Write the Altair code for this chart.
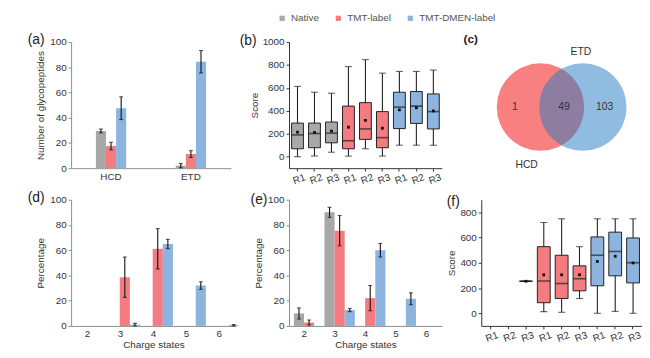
import altair as alt
import pandas as pd

FONT = "Liberation Sans"
TXT = "#333333"
AX_GRAY = "#8c8c8c"
AX_DARK = "#333333"

# ---------------- shared series ----------------
series = ["Native", "TMT-label", "TMT-DMEN-label"]
series_colors = ["#A8A8A8", "#F47B80", "#8CB4DE"]
reps = ["R1", "R2", "R3"]

# ---------------- (a) number of glycopeptides ----------------
a_modes = ["HCD", "ETD"]
a_native = [29.5, 2.0]
a_native_err = [1.5, 1.7]
a_tmt = [17.5, 11.2]
a_tmt_err = [3.0, 2.7]
a_dmen = [47.5, 84.3]
a_dmen_err = [9.0, 8.9]

# ---------------- (b) scores, HCD ----------------
b_low = [0, 6, 39, 5, 69, 5, 100, 100, 100]
b_q1 = [69, 78, 121, 69, 151, 78, 245, 290, 242]
b_med = [190, 202, 205, 139, 242, 166, 432, 441, 393]
b_q3 = [293, 293, 302, 441, 471, 393, 562, 568, 547]
b_high = [613, 562, 553, 785, 846, 728, 743, 743, 755]
b_mean = [214, 211, 223, 257, 317, 248, 408, 426, 399]

# ---------------- (c) Venn ----------------
venn_sets = ["HCD", "ETD"]
venn_counts = ["1", "49", "103"]  # HCD only, shared, ETD only

# ---------------- (d) charge states, HCD ----------------
charges = ["2", "3", "4", "5", "6"]
d_native = [0, 0, 0, 0, 0]
d_native_err = [0, 0, 0, 0, 0]
d_tmt = [0, 38.6, 61.1, 0, 0]
d_tmt_err = [0, 16.0, 16.0, 0, 0]
d_dmen = [0, 1.0, 64.9, 32.0, 0.6]
d_dmen_err = [0, 1.0, 3.7, 3.0, 0.5]

# ---------------- (e) charge states, ETD ----------------
e_native = [9.9, 90.0, 0, 0, 0]
e_native_err = [4.4, 4.0, 0, 0, 0]
e_tmt = [2.7, 75.5, 22.0, 0, 0]
e_tmt_err = [2.0, 12.0, 10.0, 0, 0]
e_dmen = [0, 12.6, 60.0, 21.5, 0]
e_dmen_err = [0, 1.3, 5.4, 4.7, 0]

# ---------------- (f) scores, ETD ----------------
f_low = [None, None, 254, 13, 8, 117, 0, 15, 0]
f_q1 = [None, None, 254, 84, 117, 178, 218, 297, 241]
f_med = [None, None, 254, 256, 236, 274, 460, 490, 401]
f_q3 = [None, None, 254, 528, 460, 376, 605, 643, 597]
f_high = [None, None, 254, 719, 749, 528, 749, 749, 749]
f_mean = [None, None, 254, 305, 305, 305, 411, 452, 399]

box_keys = [f"{s}|{r}" for s in series for r in reps]

color_enc = alt.Color(
    "series:N",
    scale=alt.Scale(domain=series, range=series_colors),
    legend=alt.Legend(
        orient="none", legendX=209, legendY=-29, direction="horizontal",
        title=None, symbolType="square", symbolSize=28, symbolStrokeWidth=0,
        labelFont=FONT, labelFontSize=10, labelColor="#555555",
        columnPadding=14, labelOffset=4,
    ),
)


def panel_title(text, dx, dy, size=14, weight="normal"):
    return alt.TitleParams(
        text=text, anchor="start", frame="group", orient="top", offset=0,
        dx=dx, dy=dy, fontSize=size, font=FONT, fontWeight=weight, color="#222222",
    )


def bar_df(cats, vals, errs):
    rows = []
    for s, vl, el in zip(series, vals, errs):
        for c, v, e in zip(cats, vl, el):
            rows.append({"cat": c, "series": s, "value": v, "err": e,
                         "lo": v - e, "hi": v + e})
    return pd.DataFrame(rows)


def bar_panel(df, cats, label, dx, dy, ytitle, xtitle, w, h, pin, pout):
    x = alt.X("cat:N", sort=cats,
              scale=alt.Scale(domain=cats, paddingInner=pin, paddingOuter=pout),
              axis=alt.Axis(title=xtitle, labelAngle=0, ticks=False, labelPadding=3,
                            titlePadding=1, domainColor=AX_GRAY))
    xo = alt.XOffset("series:N", sort=series,
                     scale=alt.Scale(domain=series, paddingInner=0, paddingOuter=0))
    ysc = alt.Scale(domain=[0, 100], nice=False, zero=True)
    yax = alt.Axis(values=[0, 20, 40, 60, 80, 100], title=ytitle, tickSize=3,
                   domainColor=AX_GRAY, tickColor=AX_GRAY, labelPadding=2, titlePadding=4)
    base = alt.Chart(df)
    bars = base.mark_bar().encode(
        x=x, xOffset=xo, y=alt.Y("value:Q", scale=ysc, axis=yax), color=color_enc)
    errs = base.transform_filter("datum.err > 0")
    rule = errs.mark_rule(color="#111111", strokeWidth=1.1).encode(
        x=x, xOffset=xo, y=alt.Y("lo:Q", scale=ysc, axis=yax), y2="hi:Q")
    cap_lo = errs.mark_tick(color="#111111", size=4, thickness=1.1).encode(
        x=x, xOffset=xo, y=alt.Y("lo:Q", scale=ysc, axis=yax))
    cap_hi = errs.mark_tick(color="#111111", size=4, thickness=1.1).encode(
        x=x, xOffset=xo, y=alt.Y("hi:Q", scale=ysc, axis=yax))
    return alt.layer(bars, rule, cap_lo, cap_hi).properties(
        width=w, height=h, title=panel_title(label, dx, dy))


def box_df(lo, q1, med, q3, hi, mean):
    rows = []
    for i, k in enumerate(box_keys):
        if lo[i] is None:
            continue
        rows.append({"key": k, "series": k.split("|")[0], "lo": lo[i], "q1": q1[i],
                     "med": med[i], "q3": q3[i], "hi": hi[i], "mean": mean[i]})
    return pd.DataFrame(rows)


def box_panel(df, label, dx, dy, w, h, ydom, yvals, bsize):
    x = alt.X("key:N", sort=box_keys,
              scale=alt.Scale(domain=box_keys, paddingInner=0, paddingOuter=0),
              axis=alt.Axis(title=None, labelExpr="split(datum.value, '|')[1]",
                            labelAngle=-20, labelAlign="center", labelBaseline="top",
                            tickSize=3, labelPadding=3, domainColor=AX_DARK,
                            tickColor=AX_DARK))
    ysc = alt.Scale(domain=ydom, nice=False, zero=False)
    yax = alt.Axis(values=yvals, format="d", title="Score", tickSize=3,
                   domainColor=AX_DARK, tickColor=AX_DARK, labelPadding=2,
                   titlePadding=3)
    base = alt.Chart(df)
    whisk = base.mark_rule(color="#222222", strokeWidth=1.1).encode(
        x=x, y=alt.Y("lo:Q", scale=ysc, axis=yax), y2="hi:Q")
    cap_lo = base.mark_tick(color="#222222", size=7, thickness=1.1).encode(
        x=x, y=alt.Y("lo:Q", scale=ysc, axis=yax))
    cap_hi = base.mark_tick(color="#222222", size=7, thickness=1.1).encode(
        x=x, y=alt.Y("hi:Q", scale=ysc, axis=yax))
    box = base.mark_bar(size=bsize, stroke="#222222", strokeWidth=1).encode(
        x=x, y=alt.Y("q1:Q", scale=ysc, axis=yax), y2="q3:Q", color=color_enc)
    med = base.mark_tick(color="#222222", size=bsize, thickness=1.6).encode(
        x=x, y=alt.Y("med:Q", scale=ysc, axis=yax))
    mean = base.mark_point(shape="square", filled=True, size=8, color="#111111",
                           opacity=1).encode(
        x=x, y=alt.Y("mean:Q", scale=ysc, axis=yax))
    return alt.layer(whisk, cap_lo, cap_hi, box, med, mean).properties(
        width=w, height=h, title=panel_title(label, dx, dy))


# ---------------- panels ----------------
pa = bar_panel(bar_df(a_modes, [a_native, a_tmt, a_dmen],
                      [a_native_err, a_tmt_err, a_dmen_err]),
               a_modes, "(a)", -44, 10, "Number of glycopeptides", None,
               162, 128, 0.62, 0.31)

pb = box_panel(box_df(b_low, b_q1, b_med, b_q3, b_high, b_mean), "(b)", -50, 11,
               155, 128, [-100, 1000], [0, 200, 400, 600, 800, 1000], 12)

# Venn: unit-radius circles, centres 0.86 radius apart
venn_r_px = 50
venn_gap = 0.86
venn_df = pd.DataFrame({"set": venn_sets, "cx": [0.0, venn_gap], "cy": [0.0, 0.0]})
cnt_df = pd.DataFrame({"label": venn_counts, "cx": [-0.52, 0.48, 1.3], "cy": [0.0, 0.0, 0.0]})
setlab_df = pd.DataFrame({"label": venn_sets, "cx": [-0.28, 0.82], "cy": [-1.18, 1.12]})
vx = alt.X("cx:Q", scale=alt.Scale(domain=[-1.2, 2.06], nice=False, zero=False), axis=None)
vy = alt.Y("cy:Q", scale=alt.Scale(domain=[-1.24, 1.32], nice=False, zero=False), axis=None)
csize = 3.14159 * venn_r_px ** 2
red_c = alt.Chart(venn_df).transform_filter("datum.set == 'HCD'").mark_circle(
    size=csize, opacity=1, color="#F88080").encode(x=vx, y=vy)
blue_c = alt.Chart(venn_df).transform_filter("datum.set == 'ETD'").mark_circle(
    size=csize, opacity=0.5, color="#1F79C1").encode(x=vx, y=vy)
cnt_t = alt.Chart(cnt_df).mark_text(font=FONT, fontSize=10.5, color="#333333").encode(
    x=vx, y=vy, text="label:N")
set_t = alt.Chart(setlab_df).mark_text(font=FONT, fontSize=10.5, color="#333333").encode(
    x=vx, y=vy, text="label:N")
pc = alt.layer(red_c, blue_c, cnt_t, set_t).properties(
    width=163, height=128, title=panel_title("(c)", -18, 4, size=12, weight="bold"))

pd_ = bar_panel(bar_df(charges, [d_native, d_tmt, d_dmen],
                       [d_native_err, d_tmt_err, d_dmen_err]),
                charges, "(d)", -44, 10, "Percentage", "Charge states",
                167, 128, 0.34, 0.17)

pe = bar_panel(bar_df(charges, [e_native, e_tmt, e_dmen],
                      [e_native_err, e_tmt_err, e_dmen_err]),
               charges, "(e)", -39, 12, "Percentage", "Charge states",
               155, 128, 0.32, 0.16)

pf = box_panel(box_df(f_low, f_q1, f_med, f_q3, f_high, f_mean), "(f)", -35, 9,
               163, 128, [-100, 900], [0, 200, 400, 600, 800], 13)

chart = alt.concat(pa, pb, pc, pd_, pe, pf, columns=3,
                   spacing={"row": 5, "column": 0}).properties(
    padding={"left": 20, "top": 3, "right": 0, "bottom": 0}
).configure_view(stroke=None).configure_axis(
    labelFont=FONT, titleFont=FONT, labelFontSize=10, titleFontSize=10,
    labelColor=TXT, titleColor=TXT, titleFontWeight="normal", grid=False,
)

chart.save("out.html", embed_options={"renderer": "svg", "actions": False})
